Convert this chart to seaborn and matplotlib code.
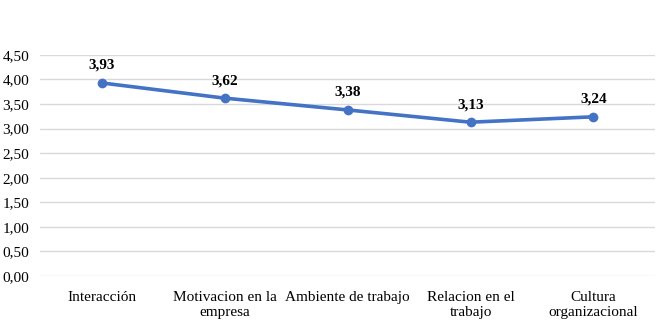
import pandas as pd
import seaborn as sns
import matplotlib.pyplot as plt
from matplotlib.ticker import FuncFormatter

categorias = ['Interacción', 'Motivacion en la\nempresa', 'Ambiente de trabajo',
              'Relacion en el\ntrabajo', 'Cultura\norganizacional']
valores = [3.93, 3.62, 3.38, 3.13, 3.24]
yticks = [0, 0.5, 1.0, 1.5, 2.0, 2.5, 3.0, 3.5, 4.0, 4.5]

sns.set_style('white')
plt.rcParams['font.family'] = ['Liberation Serif', 'DejaVu Serif']
plt.rcParams['text.color'] = 'black'
plt.rcParams['xtick.color'] = 'black'
plt.rcParams['ytick.color'] = 'black'

df = pd.DataFrame({'cat': categorias, 'val': valores})

fig = plt.figure(figsize=(6.69, 3.25), dpi=100)
ax = fig.add_axes([0.06, 0.151, 0.919, 0.68])

x = list(range(len(categorias)))
sns.lineplot(x=x, y=df['val'], ax=ax, color='#4472C4', linewidth=2.6,
             marker='o', markersize=7, markeredgewidth=0, zorder=3)

for xi, v in zip(x, valores):
    ax.annotate('{:.2f}'.format(v).replace('.', ','), (xi, v), xytext=(0, 8),
                textcoords='offset points', ha='center', va='bottom',
                fontsize=11, fontweight='bold', color='black')

ax.set_xlim(-0.5, len(categorias) - 0.5)
ax.set_ylim(0, 4.5)
ax.set_yticks(yticks)
ax.yaxis.set_major_formatter(FuncFormatter(lambda v, p: '{:.2f}'.format(v).replace('.', ',')))
ax.set_xticks(x)
ax.set_xticklabels(categorias, fontsize=11, linespacing=1.2, multialignment='center')
ax.tick_params(axis='y', labelsize=11, length=0, pad=8)
ax.tick_params(axis='x', length=0, pad=11)
ax.grid(axis='y', color='#d9d9d9', linewidth=1)
ax.set_axisbelow(True)
ax.set_xlabel('')
ax.set_ylabel('')
sns.despine(ax=ax, left=True, bottom=True)

plt.savefig('out.png', dpi=100)
